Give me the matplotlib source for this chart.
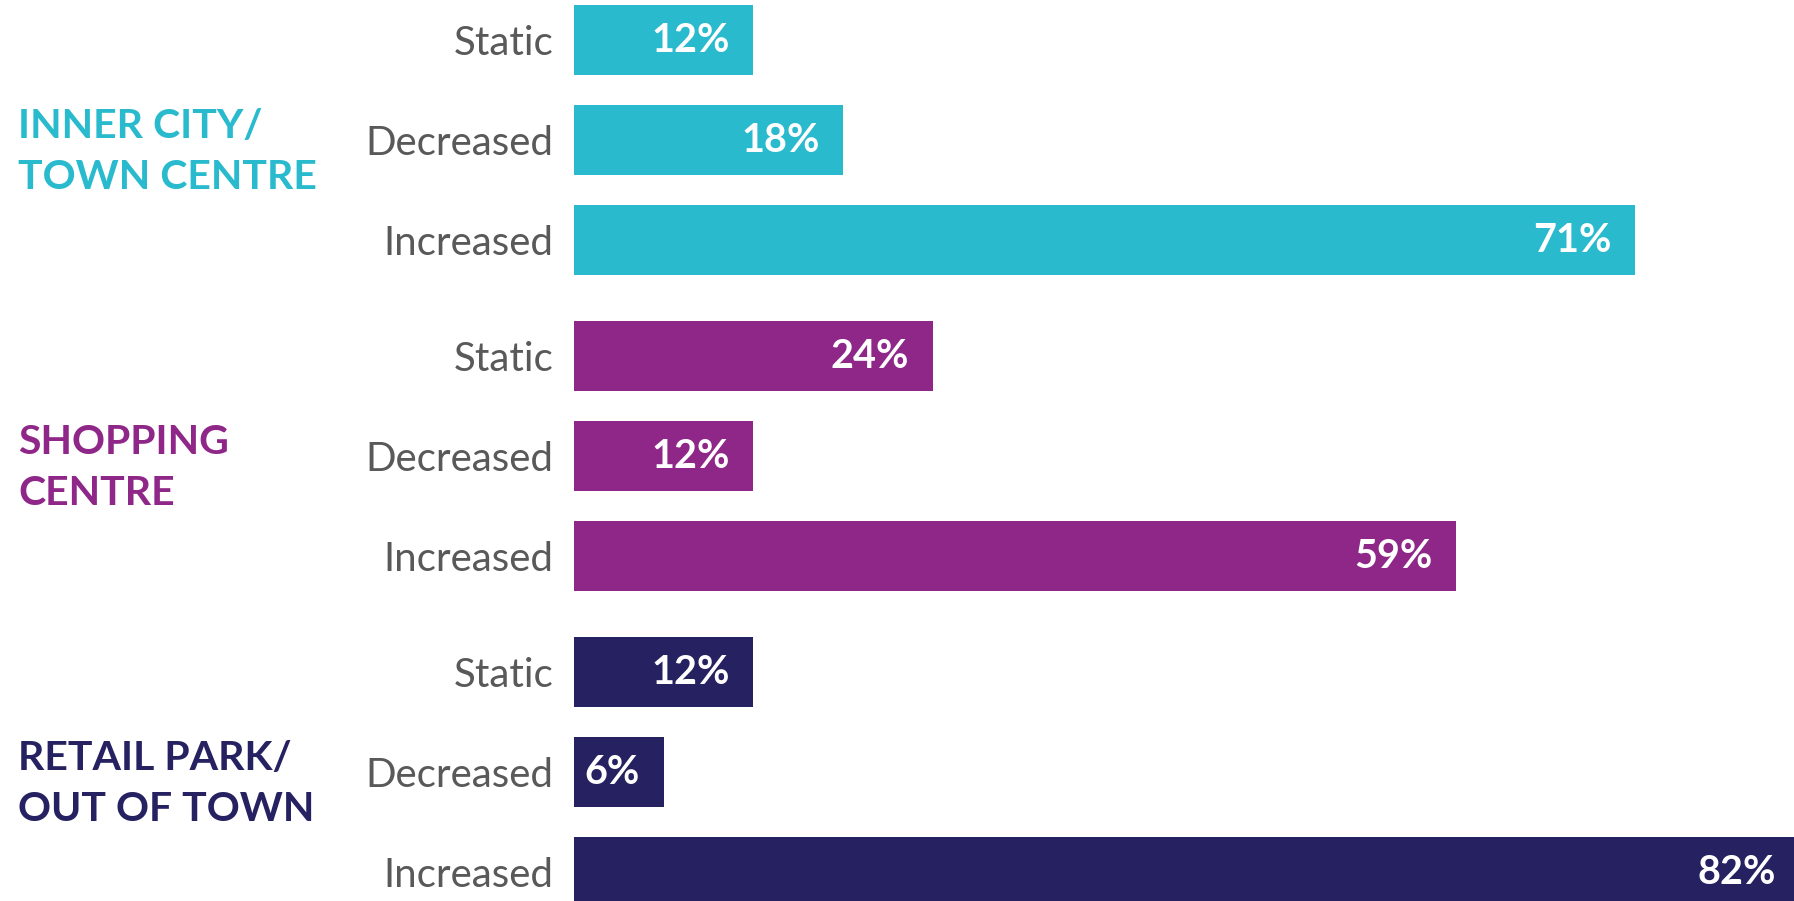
import matplotlib
matplotlib.use('Agg')
import matplotlib.pyplot as plt
import matplotlib.transforms as mtransforms
import numpy as np

plt.rcParams['font.family'] = ['Lato', 'DejaVu Sans']

# datos
groups = ['INNER CITY/\nTOWN CENTRE', 'SHOPPING\nCENTRE', 'RETAIL PARK/\nOUT OF TOWN']
categories = ['Static', 'Decreased', 'Increased']
inner_city = [12, 18, 71]
shopping = [24, 12, 59]
retail_park = [12, 6, 82]
group_colors = ['#29BBCD', '#8E2788', '#262262']

# layout
group_step = 3.16
bar_h = 0.7
label_color = '#595959'

fig = plt.figure(figsize=(17.94, 9.01), dpi=100)
left = 574 / 1794
ax = fig.add_axes([left, 0, 1 - left, 1])

series = [inner_city, shopping, retail_park]
ticks = []
tick_labels = []
for g, (vals, col) in enumerate(zip(series, group_colors)):
    pos = g * group_step + np.arange(len(categories))
    ax.barh(pos, vals, height=bar_h, color=col, left=0)
    for p, v in zip(pos, vals):
        ax.annotate(f'{v}%', xy=(v, p), xytext=(-17, 0), textcoords='offset points',
                    ha='right', va='center', color='white', fontsize=28.5, fontweight='bold',
                    annotation_clip=False)
    ticks.extend(pos)
    tick_labels.extend(categories)

ax.set_yticks(ticks, tick_labels)
ax.tick_params(axis='y', length=0, pad=15, labelsize=29, labelcolor=label_color)
ax.set_xticks([])
ax.set_xlim(0, 1220 / 14.95)
ax.set_ylim(8.61, -0.40)
for s in ax.spines.values():
    s.set_visible(False)

# etiquetas de grupo
trans = mtransforms.blended_transform_factory(fig.transFigure, ax.transData)
for g, (name, col) in enumerate(zip(groups, group_colors)):
    yc = g * group_step + 1 + 0.12
    ax.text(18 / 1794, yc, name, transform=trans, ha='left', va='center', color=col,
            fontsize=29.5, fontweight='bold', linespacing=1.45, clip_on=False)

plt.savefig('out.png', dpi=100)
